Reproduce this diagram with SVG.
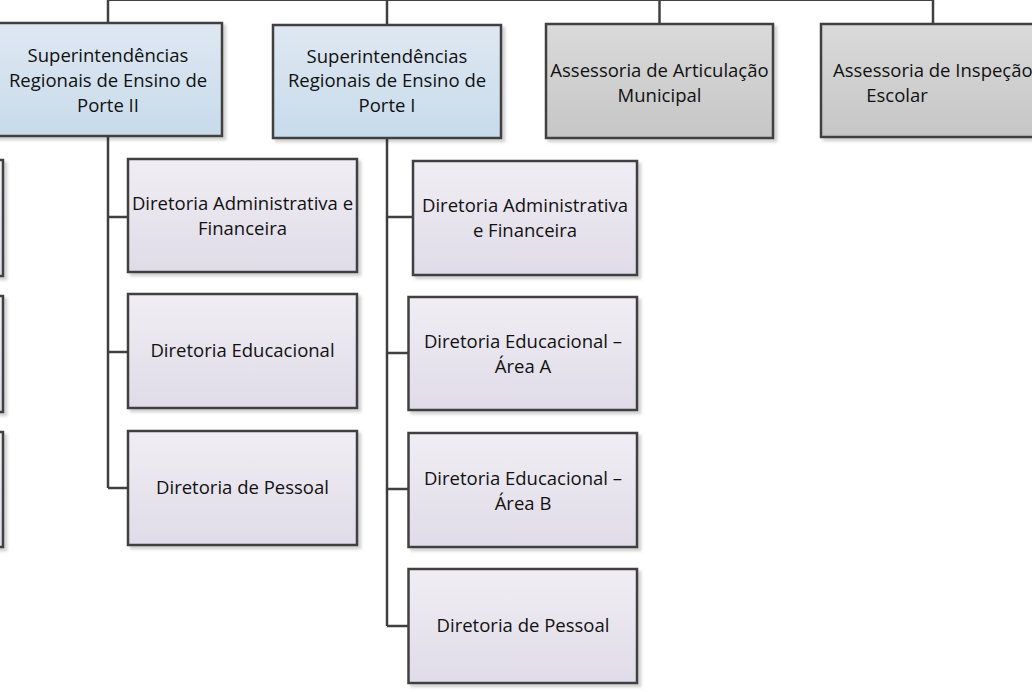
<svg xmlns="http://www.w3.org/2000/svg" width="1032" height="692" viewBox="0 0 1032 692">
<defs>
<linearGradient id="gBlue" x1="0" y1="0" x2="0" y2="1"><stop offset="0" stop-color="#dfe8f2"/><stop offset="1" stop-color="#c7dbeb"/></linearGradient>
<linearGradient id="gGray" x1="0" y1="0" x2="0" y2="1"><stop offset="0" stop-color="#dadada"/><stop offset="1" stop-color="#c6c6c6"/></linearGradient>
<linearGradient id="gLav" x1="0" y1="0" x2="0" y2="1"><stop offset="0" stop-color="#f0eef4"/><stop offset="1" stop-color="#e0dbe8"/></linearGradient>
<filter id="sh" x="-10%" y="-10%" width="130%" height="130%"><feDropShadow dx="3" dy="3" stdDeviation="1.5" flood-color="#000" flood-opacity="0.18"/></filter>
</defs>
<style>
.box{stroke:#404040;stroke-width:2.5;filter:url(#sh)}
.blue{fill:url(#gBlue)}
.gray{fill:url(#gGray)}
.lav{fill:url(#gLav)}
.conn{fill:none;stroke:#404040;stroke-width:2.5}
text{font-family:"Open Sans","Noto Sans","Liberation Sans",sans-serif;font-size:18.5px;fill:#111;text-anchor:middle}
</style>
<rect width="1032" height="692" fill="#fff"/>
<g id="connectors" class="conn">
<path d="M108,-0.3 H933"/>
<path d="M108,0 V23"/>
<path d="M387,0 V25"/>
<path d="M659.5,0 V24"/>
<path d="M933,0 V24"/>
<path d="M108,136 V488"/>
<path d="M108,217 H128"/>
<path d="M108,352 H128"/>
<path d="M108,488 H128"/>
<path d="M387,138 V626"/>
<path d="M387,217 H413"/>
<path d="M387,353 H408.5"/>
<path d="M387,489 H408.5"/>
<path d="M387,626 H408.5"/>
</g>
<g id="left-partial-1"><rect class="box lav" x="-226" y="160" width="229" height="116"/></g>
<g id="left-partial-2"><rect class="box lav" x="-226" y="296" width="229" height="116"/></g>
<g id="left-partial-3"><rect class="box lav" x="-226" y="432" width="229" height="115"/></g>
<g id="sre-porte-ii">
<rect class="box blue" x="-6" y="23" width="228" height="113"/>
<text x="108" y="62">Superintendências</text>
<text x="108" y="86.8">Regionais de Ensino de</text>
<text x="108" y="111.6">Porte II</text>
</g>
<g id="sre-porte-i">
<rect class="box blue" x="273" y="25" width="228" height="113"/>
<text x="387" y="62.7">Superintendências</text>
<text x="387" y="87.4">Regionais de Ensino de</text>
<text x="387" y="112.2">Porte I</text>
</g>
<g id="assessoria-articulacao">
<rect class="box gray" x="546" y="24" width="227" height="114"/>
<text x="659.5" y="77.3">Assessoria de Articulação</text>
<text x="659.5" y="101.7">Municipal</text>
</g>
<g id="assessoria-inspecao">
<rect class="box gray" x="821" y="24" width="228" height="113"/>
<text x="833" y="77.3" style="text-anchor:start">Assessoria de Inspeção</text>
<text x="897" y="101.7">Escolar</text>
</g>
<g id="p2-adm">
<rect class="box lav" x="128" y="159" width="229" height="113"/>
<text x="242.5" y="210">Diretoria Administrativa e</text>
<text x="242.5" y="235">Financeira</text>
</g>
<g id="p2-edu">
<rect class="box lav" x="128" y="294" width="229" height="114"/>
<text x="242.5" y="357">Diretoria Educacional</text>
</g>
<g id="p2-pessoal">
<rect class="box lav" x="128" y="431" width="229" height="114"/>
<text x="242.5" y="494">Diretoria de Pessoal</text>
</g>
<g id="p1-adm">
<rect class="box lav" x="413" y="161" width="224" height="114"/>
<text x="525" y="211.7">Diretoria Administrativa</text>
<text x="525" y="236.7">e Financeira</text>
</g>
<g id="p1-edu-a">
<rect class="box lav" x="408.5" y="297" width="228.5" height="113"/>
<text x="523" y="348.3">Diretoria Educacional –</text>
<text x="523" y="373.3">Área A</text>
</g>
<g id="p1-edu-b">
<rect class="box lav" x="408.5" y="433" width="228.5" height="114"/>
<text x="523" y="485">Diretoria Educacional –</text>
<text x="523" y="509.5">Área B</text>
</g>
<g id="p1-pessoal">
<rect class="box lav" x="408.5" y="569" width="228.5" height="114"/>
<text x="523" y="631.7">Diretoria de Pessoal</text>
</g>
</svg>
